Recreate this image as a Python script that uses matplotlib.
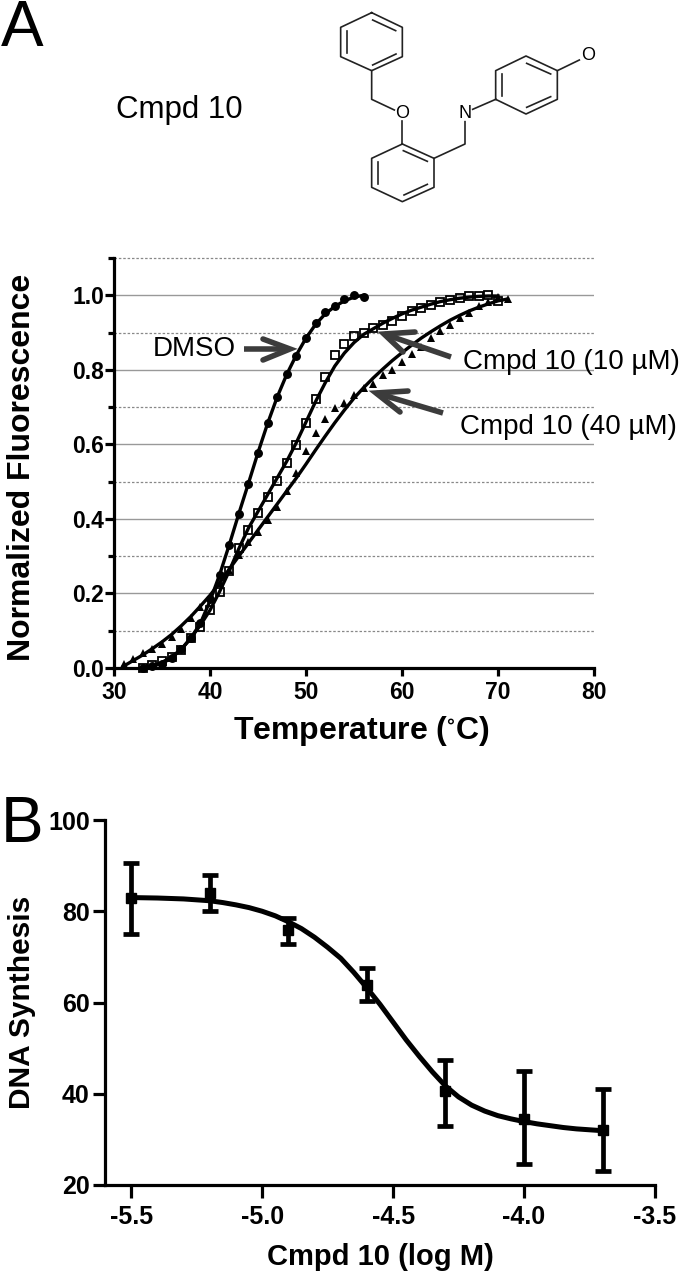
import matplotlib
matplotlib.use('Agg')
import matplotlib.pyplot as plt

plt.rcParams['font.family'] = ['Liberation Sans', 'DejaVu Sans']

W, H = 680, 1274

# panel A, normalized melt curves
temp_dmso = list(range(33, 57))
dmso = [0.0, 0.005, 0.012, 0.027, 0.05, 0.08, 0.12, 0.185, 0.249, 0.33, 0.414, 0.493,
        0.578, 0.656, 0.727, 0.788, 0.836, 0.885, 0.926, 0.954, 0.97, 0.99, 1.0, 0.995]
dmso_fit = [0.0, 0.005, 0.012, 0.027, 0.05, 0.08, 0.12, 0.18, 0.25, 0.33, 0.414, 0.495,
            0.578, 0.656, 0.727, 0.788, 0.84, 0.885, 0.922, 0.95, 0.97, 0.985, 0.995, 1.0]

temp_10 = list(range(33, 71))
cmpd10_10 = [0.0, 0.008, 0.018, 0.03, 0.048, 0.08, 0.11, 0.155, 0.203, 0.26, 0.322, 0.37,
             0.415, 0.458, 0.502, 0.549, 0.598, 0.657, 0.721, 0.782, 0.839, 0.869, 0.892,
             0.899, 0.911, 0.92, 0.931, 0.944, 0.957, 0.965, 0.973, 0.982, 0.987, 0.994,
             0.998, 0.997, 1.0, 0.985]
cmpd10_10_fit = [0.0, 0.005, 0.015, 0.03, 0.05, 0.08, 0.115, 0.155, 0.205, 0.26, 0.32, 0.375,
                 0.42, 0.465, 0.51, 0.555, 0.605, 0.66, 0.715, 0.765, 0.81, 0.845, 0.873,
                 0.895, 0.91, 0.925, 0.938, 0.95, 0.96, 0.968, 0.976, 0.983, 0.988, 0.992,
                 0.995, 0.997, 0.998, 0.998]

temp_40 = list(range(31, 72))
cmpd10_40 = [0.01, 0.024, 0.04, 0.05, 0.065, 0.083, 0.104, 0.135, 0.164, 0.191, 0.228, 0.263,
             0.303, 0.338, 0.364, 0.397, 0.431, 0.475, 0.524, 0.582, 0.63, 0.667, 0.698,
             0.711, 0.732, 0.75, 0.763, 0.785, 0.799, 0.82, 0.842, 0.861, 0.886, 0.903,
             0.92, 0.938, 0.952, 0.97, 0.982, 0.995, 0.99]
cmpd10_40_fit = [0.005, 0.02, 0.035, 0.052, 0.07, 0.09, 0.113, 0.138, 0.166, 0.195, 0.228, 0.265,
                 0.3, 0.335, 0.37, 0.405, 0.44, 0.475, 0.51, 0.547, 0.585, 0.622, 0.658,
                 0.692, 0.724, 0.752, 0.778, 0.802, 0.825, 0.846, 0.866, 0.885, 0.902, 0.918,
                 0.933, 0.946, 0.958, 0.968, 0.977, 0.985, 0.99]

# panel B, dose response
log_conc = [-5.5, -5.2, -4.9, -4.6, -4.3, -4.0, -3.7]
synthesis = [83, 84, 75.8, 63.8, 40.5, 34.5, 32]
err_low = [8, 4, 3, 3.5, 7.5, 10, 9]
err_high = [7.5, 4, 2.7, 3.8, 7, 10.5, 9]
fit_x = [-5.5, -5.45, -5.4, -5.35, -5.3, -5.25, -5.2, -5.15, -5.1, -5.05, -5.0, -4.95, -4.9,
         -4.85, -4.8, -4.75, -4.7, -4.65, -4.6, -4.55, -4.5, -4.45, -4.4, -4.35, -4.3,
         -4.25, -4.2, -4.15, -4.1, -4.05, -4.0, -3.95, -3.9, -3.85, -3.8, -3.75, -3.7]
fit_y = [83, 82.95, 82.9, 82.8, 82.7, 82.5, 82.3, 81.9, 81.4, 80.8, 80, 79, 77.7,
         76.2, 74.3, 72.1, 69.7, 66.6, 63.2, 59.6, 55.7, 51.8, 48.2, 44.8, 41.7,
         39.3, 37.5, 36.2, 35.2, 34.5, 33.9, 33.4, 33, 32.6, 32.3, 32.1, 31.9]


def place(left, top, right, bottom):
    return fig.add_axes([left / W, 1 - bottom / H, (right - left) / W, (bottom - top) / H])


def clean(ax, size):
    for s in ['top', 'right']:
        ax.spines[s].set_visible(False)
    for s in ['left', 'bottom']:
        ax.spines[s].set_linewidth(2.3)
    ax.tick_params(width=2.3, labelsize=size)
    for t in ax.get_xticklabels() + ax.get_yticklabels():
        t.set_fontweight('bold')


fig = plt.figure(figsize=(W / 100, H / 100), dpi=100)

# A
ax = place(114, 258, 594, 668)
ax.set_xlim(30, 80)
ax.set_ylim(0, 1.1)
for v in [0.2, 0.4, 0.6, 0.8, 1.0]:
    ax.axhline(v, color='#999999', lw=1, zorder=1)
for v in [0.1, 0.3, 0.5, 0.7, 0.9, 1.1]:
    ax.axhline(v, color='#888888', lw=0.9, ls=(0, (2, 1.5)), zorder=1, clip_on=False)
ax.plot(temp_dmso, dmso_fit, color='black', lw=2.4, zorder=3)
ax.plot(temp_10, cmpd10_10_fit, color='black', lw=2.4, zorder=3)
ax.plot(temp_40, cmpd10_40_fit, color='black', lw=2.4, zorder=3)
ax.plot(temp_dmso, dmso, 'o', color='black', ms=5.4, zorder=4, clip_on=False)
ax.plot(temp_10, cmpd10_10, 's', mfc='none', mec='black', mew=1.3, ms=6.4, zorder=4, clip_on=False)
ax.plot(temp_40, cmpd10_40, '^', color='black', ms=6.4, mew=0, zorder=4, clip_on=False)
ax.set_xticks(range(30, 81, 10))
ax.set_yticks([0, 0.2, 0.4, 0.6, 0.8, 1.0])
ax.set_yticks([0.1, 0.3, 0.5, 0.7, 0.9, 1.1], minor=True)
ax.set_yticklabels(['0.0', '0.2', '0.4', '0.6', '0.8', '1.0'])
clean(ax, 16.5)
ax.tick_params(axis='x', length=5.5, pad=3.6)
ax.tick_params(axis='y', length=6.5, pad=0.5)
ax.tick_params(axis='y', which='minor', width=2.3, length=4.5)
ax.set_xlabel('Temperature ($\\mathregular{^{\\circ}}$C)', fontsize=23, fontweight='bold', va='center')
ax.set_ylabel('Normalized Fluorescence', fontsize=23, fontweight='bold', va='center')
ax.xaxis.set_label_coords(0.515, (668 - 731) / 410)
ax.yaxis.set_label_coords((22 - 114) / 480, 0.49)

# B
bx = place(105, 820, 655, 1185)
bx.set_xlim(-5.6, -3.5)
bx.set_ylim(20, 100)
bx.plot(fit_x, fit_y, color='black', lw=3.6, zorder=3, solid_capstyle='round')
bx.errorbar(log_conc, synthesis, yerr=[err_low, err_high], fmt='s', color='black', ms=7.2,
            elinewidth=3.4, capsize=5.8, capthick=3.4, zorder=4, clip_on=False)
bx.set_xticks([-5.5, -5.0, -4.5, -4.0, -3.5])
bx.set_xticklabels(['-5.5', '-5.0', '-4.5', '-4.0', '-3.5'])
bx.set_yticks([20, 40, 60, 80, 100])
clean(bx, 18)
bx.tick_params(axis='x', length=9, pad=5.5)
bx.tick_params(axis='y', length=9, pad=2)
bx.set_xlabel('Cmpd 10 (log M)', fontsize=21, fontweight='bold', va='center')
bx.set_ylabel('DNA Synthesis', fontsize=21.5, fontweight='bold', va='center')
bx.xaxis.set_label_coords(0.5, (1185 - 1257) / 365)
bx.yaxis.set_label_coords((22 - 105) / 550, 0.501)

# overlay in pixels for letters, arrows and the structure
ov = fig.add_axes([0, 0, 1, 1], zorder=10)
ov.set_xlim(0, W)
ov.set_ylim(H, 0)
ov.axis('off')
ov.patch.set_alpha(0)

ov.text(1, 46, 'A', fontsize=46, ha='left', va='baseline')
ov.text(1, 842, 'B', fontsize=46, ha='left', va='baseline')
ov.text(116, 110, 'Cmpd 10', fontsize=22.5, ha='left', va='center')
ov.text(153, 349, 'DMSO', fontsize=20, ha='left', va='center')
ov.text(463, 362, 'Cmpd 10 (10 µM)', fontsize=20, ha='left', va='center')
ov.text(460, 427, 'Cmpd 10 (40 µM)', fontsize=20, ha='left', va='center')


def arrow(tail, tip, barb1, barb2):
    c = '#3c3c3c'
    ov.plot([tail[0], tip[0]], [tail[1], tip[1]], color=c, lw=4, solid_capstyle='butt')
    ov.plot([barb1[0], tip[0], barb2[0]], [barb1[1], tip[1], barb2[1]], color=c, lw=4,
            solid_capstyle='round', solid_joinstyle='miter')


arrow((244, 349), (290, 349), (263, 339), (263, 360))
arrow((451, 357), (384, 334), (415, 332), (403, 352))
arrow((443, 413), (376, 393), (408, 391), (400, 412))

bonds = [
    [(215, 38), (307, 82), (307, 170), (215, 212), (122, 170), (122, 82), (215, 38)],
    [(218, 60), (287, 92)], [(142, 92), (142, 160)], [(218, 195), (288, 162)],
    [(215, 212), (215, 298), (283, 330)],
    [(307, 362), (307, 432)],
    [(307, 432), (402, 475), (402, 562), (307, 605), (215, 562), (215, 475), (307, 432)],
    [(310, 452), (382, 484)], [(382, 553), (312, 585)], [(235, 485), (235, 552)],
    [(402, 475), (495, 432), (495, 365)],
    [(518, 328), (587, 298)],
    [(587, 298), (587, 212), (678, 168), (772, 212), (772, 298), (678, 342), (587, 298)],
    [(605, 222), (605, 288)], [(680, 190), (752, 222)], [(752, 290), (680, 322)],
    [(772, 212), (838, 180)],
]
for b in bonds:
    ov.plot([300 + p[0] / 3 for p in b], [p[1] / 3 for p in b], color='#222222', lw=1.2)
ov.text(300 + 307 / 3, 340 / 3, 'O', fontsize=13, ha='center', va='center')
ov.text(300 + 495 / 3, 340 / 3, 'N', fontsize=13, ha='center', va='center')
ov.text(300 + 864 / 3, 166 / 3, 'O', fontsize=13, ha='center', va='center')

fig.savefig('out.png', dpi=100)
